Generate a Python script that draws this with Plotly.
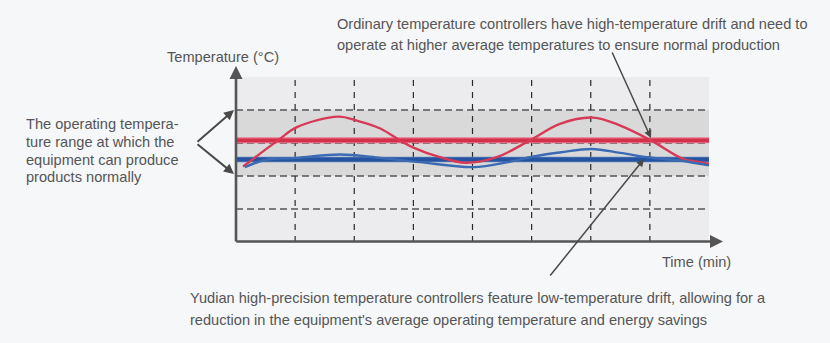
import plotly.graph_objects as go

# ---- data ----
time_range = [0, 8]
temp_range = [0, 5]
grid_x = [1, 2, 3, 4, 5, 6, 7]
grid_y = [1, 2, 3, 4]
band_low, band_high = 2, 4

red_x = [0.12, 0.71, 1.03, 1.73, 2.04, 2.44, 2.77, 2.99, 3.45, 3.88, 4.41, 4.97, 5.48, 6.04, 6.50, 7.02, 7.56, 7.85, 8.0]
red_y = [2.29, 3.08, 3.48, 3.80, 3.68, 3.44, 3.08, 2.87, 2.57, 2.40, 2.57, 3.08, 3.58, 3.77, 3.53, 3.08, 2.52, 2.42, 2.37]
blue_x = [0.15, 0.5, 1.03, 1.76, 2.44, 3.11, 4.01, 4.6, 5.03, 5.5, 6.02, 6.5, 7.0, 7.5, 8.0]
blue_y = [2.27, 2.49, 2.55, 2.65, 2.55, 2.42, 2.27, 2.42, 2.59, 2.72, 2.82, 2.70, 2.56, 2.47, 2.32]
red_avg = 3.08
blue_avg = 2.50

top_text = ["Ordinary temperature controllers have high-temperature drift and need to",
            "operate at higher average temperatures to ensure normal production"]
bottom_text = ["Yudian high-precision temperature controllers feature low-temperature drift, allowing for a",
               "reduction in the equipment's average operating temperature and energy savings"]
left_text = ["The operating tempera-", "ture range at which the",
             "equipment can produce", "products normally"]
y_title = "Temperature (°C)"
x_title = "Time (min)"

# ---- geometry ----
W, H = 830, 343
L, R, T, B = 236, 121, 77, 101
PW, PH = W - L - R, H - T - B
TXT = "#555555"
AX = "#555555"
FONT = "Liberation Sans, Arial, sans-serif"
FS = 14.6


def px(xp):
    return (xp - L) / PW


def py(yp):
    return (T + PH - yp) / PH


fig = go.Figure()

# thick average lines (with soft edge)
fig.add_trace(go.Scatter(x=time_range, y=[red_avg, red_avg], mode="lines",
                         line=dict(color="#e8788b", width=6), hoverinfo="skip"))
fig.add_trace(go.Scatter(x=time_range, y=[red_avg, red_avg], mode="lines",
                         line=dict(color="#d42f4b", width=3.8), hoverinfo="skip"))
fig.add_trace(go.Scatter(x=time_range, y=[blue_avg, blue_avg], mode="lines",
                         line=dict(color="#5a82c0", width=5.5), hoverinfo="skip"))
fig.add_trace(go.Scatter(x=time_range, y=[blue_avg, blue_avg], mode="lines",
                         line=dict(color="#2653a0", width=3.8), hoverinfo="skip"))
# fluctuating curves
fig.add_trace(go.Scatter(x=red_x, y=red_y, mode="lines",
                         line=dict(color="#d63a57", width=2.4, shape="spline", smoothing=1.0),
                         hoverinfo="skip"))
fig.add_trace(go.Scatter(x=blue_x, y=blue_y, mode="lines",
                         line=dict(color="#3c6ab3", width=2.4, shape="spline", smoothing=1.0),
                         hoverinfo="skip"))

shapes = [dict(type="rect", xref="x", yref="y", x0=time_range[0], x1=time_range[1],
               y0=band_low, y1=band_high, fillcolor="#d9d9d9", line=dict(width=0), layer="below")]
for g in grid_y:
    shapes.append(dict(type="line", xref="x", yref="y", x0=time_range[0], x1=time_range[1],
                       y0=g, y1=g, line=dict(color="#555555", width=1.4, dash="7px,4px"), layer="below"))
for g in grid_x:
    shapes.append(dict(type="line", xref="x", yref="y", x0=g, x1=g,
                       y0=temp_range[0], y1=temp_range[1],
                       line=dict(color="#2a2a2a", width=1.2, dash="6px,6px"), layer="below"))

ann = []


def pointer(tip, start, w, color="#4a4a4a"):
    return dict(x=px(tip[0]), y=py(tip[1]), xref="paper", yref="paper",
                ax=start[0] - tip[0], ay=start[1] - tip[1], text="", showarrow=True,
                arrowhead=2, arrowsize=1, arrowwidth=w, arrowcolor=color,
                standoff=0, startstandoff=0)


# axes with arrow heads
ann.append(pointer((236, 66), (236, 243), 2.6, AX))
ann.append(pointer((723, 241.5), (234.7, 241.5), 2.6, AX))

# pointer arrows
ann.append(pointer((651, 138), (611.5, 51), 1.5))
ann.append(pointer((644, 159), (549, 277), 1.5))
ann.append(pointer((234, 110), (196, 143), 2))
ann.append(pointer((234, 174), (196, 143), 2))


def label(text, xl, yc):
    return dict(x=px(xl - 2), y=py(yc), xref="paper", yref="paper", text=text, showarrow=False,
                xanchor="left", yanchor="middle", font=dict(family=FONT, size=FS, color=TXT))


ann.append(label(top_text[0], 337, 24))
ann.append(label(top_text[1], 337, 45))
ann.append(label(bottom_text[0], 190, 298))
ann.append(label(bottom_text[1], 190, 320))
ann.append(label(y_title, 167, 57))
ann.append(label(x_title, 662, 262))
for i, t in enumerate(left_text):
    ann.append(label(t, 26, 124 + i * 17.8))

fig.update_layout(
    width=W, height=H,
    margin=dict(l=L, r=R, t=T, b=B),
    paper_bgcolor="#f6f7f9", plot_bgcolor="#ececee",
    showlegend=False,
    xaxis=dict(range=time_range, visible=False, fixedrange=True),
    yaxis=dict(range=temp_range, visible=False, fixedrange=True),
    shapes=shapes, annotations=ann,
)

fig.write_html("out.html", config={"displayModeBar": False})
